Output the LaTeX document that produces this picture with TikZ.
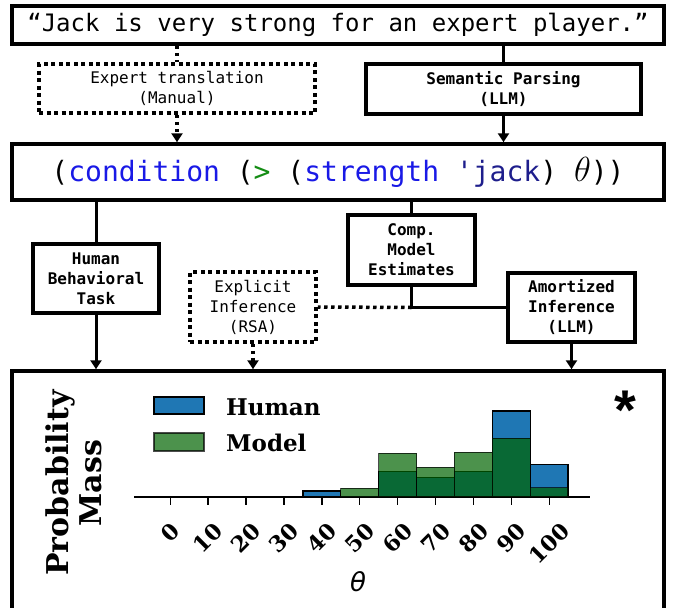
\documentclass[tikz,border=0pt]{standalone}
\usepackage{fontspec}
\setmonofont{DejaVu Sans Mono}
\newfontfamily\dvserif{DejaVu Serif}
\newfontfamily\dvsans{DejaVu Sans}
\newfontfamily\libsans{Liberation Sans}
\usetikzlibrary{arrows.meta}

\definecolor{hblue}{HTML}{1F77B4}
\definecolor{mgreen}{HTML}{006400}
\definecolor{kwblue}{RGB}{25,25,230}
\definecolor{opgreen}{RGB}{20,140,20}
\definecolor{symnavy}{RGB}{30,30,140}

\tikzset{
  boxbase/.style={line width=3.5pt, inner sep=0pt, align=center},
  solidbox/.style={boxbase, draw, font=\fontsize{16}{20}\selectfont\ttfamily\bfseries},
  dotbox/.style={boxbase, draw, dash pattern=on 4pt off 3.5pt, font=\fontsize{16}{20}\selectfont\ttfamily},
  conn/.style={line width=3pt},
  arr/.style={conn, -{Triangle[width=11pt,length=9pt]}},
  dotconn/.style={line width=3.5pt, dash pattern=on 3.5pt off 3.5pt},
  dotarr/.style={dotconn, -{Triangle[width=11pt,length=9pt]}},
  humbar/.style={fill=hblue, draw=black, line width=1.4pt},
  modbar/.style={fill=mgreen, draw=black, line width=1.4pt, opacity=0.7},
  serifbold/.style={font=\fontsize{#1}{#1}\selectfont\dvserif\bfseries},
}

\begin{document}
\begin{tikzpicture}[x=1pt,y=-1pt]
\useasboundingbox (0,0) rectangle (675,608);

% pipeline boxes
\node[solidbox, minimum width=652pt, minimum height=38pt,
      font=\fontsize{24}{28}\selectfont\ttfamily] (sent) at (338,25)
      {“Jack is very strong for an expert player.”};
\node[dotbox, minimum width=276pt, minimum height=49pt] (expert) at (177,88.5)
      {Expert translation\\(Manual)};
\node[solidbox, minimum width=275pt, minimum height=50pt] (parse) at (503.5,89)
      {Semantic Parsing\\(LLM)};
\node[solidbox, minimum width=652pt, minimum height=56pt,
      font=\fontsize{28}{32}\selectfont\ttfamily] (cond) at (338,172)
      {(\textcolor{kwblue}{condition} (\textcolor{opgreen}{>} (\textcolor{kwblue}{strength} \textcolor{symnavy}{'jack}) \scalebox{1.4}{$\theta$}))};
\node[solidbox, minimum width=126pt, minimum height=69pt] (human) at (96,278.5)
      {Human\\Behavioral\\Task};
\node[solidbox, minimum width=127pt, minimum height=70pt] (comp) at (411.5,250)
      {Comp.\\Model\\Estimates};
\node[dotbox, minimum width=126pt, minimum height=70pt] (explicit) at (253,307)
      {Explicit\\Inference\\(RSA)};
\node[solidbox, minimum width=127pt, minimum height=69pt] (amort) at (571.5,307.5)
      {Amortized\\Inference\\(LLM)};
\node[draw, line width=3.5pt, minimum width=652pt, minimum height=250pt,
      inner sep=0pt] (result) at (338,496) {};

% connectors
\draw[dotconn] (sent.south -| expert.north) -- (expert.north);
\draw[dotarr] (expert.south) -- (expert.south |- cond.north);
\draw[conn] (sent.south -| parse.north) -- (parse.north);
\draw[arr] (parse.south) -- (parse.south |- cond.north);
\draw[conn] (cond.south -| human.north) -- (human.north);
\draw[arr] (human.south) -- (human.south |- result.north);
\draw[conn] (cond.south -| comp.north) -- (comp.north);
\coordinate (split) at (comp.south |- amort.west);
\draw[conn] (comp.south) -- (split) -- (amort.west);
\draw[dotconn] (split) -- (explicit.east);
\draw[dotarr] (explicit.south) -- (explicit.south |- result.north);
\draw[arr] (amort.south) -- (amort.south |- result.north);

% histogram: axis, zero-height bins and ticks
\coordinate (axl) at (134,497);
\coordinate (axr) at (590,497);
\draw[line width=1.3pt] (axl) -- (axr);
\draw[line width=1.4pt] (151.25,497) -- (302.8,497);
\foreach \i/\lab in {0/0,1/10,2/20,3/30,4/40,5/50,6/60,7/70,8/80,9/90,10/100}{
  \draw[line width=1.4pt] ({170.2+37.9*\i},497) -- ({170.2+37.9*\i},505);
  \node[anchor=north, inner sep=0pt] at ({170.2+37.9*\i},521)
    {\rotatebox{45}{\fontsize{22}{22}\selectfont\dvserif\bfseries \lab}};
}
% human responses
\foreach \i/\h in {4/6,6/25.3,7/19.3,8/25.3,9/86,10/32.7}
  \draw[humbar] ({170.2+37.9*\i-18.95},497) rectangle ({170.2+37.9*\i+18.95},{497-\h});
% model estimates
\foreach \i/\h in {5/8.7,6/43.7,7/29.7,8/44.7,9/58.7,10/9.3}
  \draw[modbar] ({170.2+37.9*\i-18.95},497) rectangle ({170.2+37.9*\i+18.95},{497-\h});

% legend
\draw[humbar] (154,397) rectangle (204,414);
\draw[modbar] (154,433) rectangle (204,451);
\node[serifbold=23, anchor=base west, inner sep=0pt] (lh) at (226,415) {Human};
\node[serifbold=23, anchor=base west, inner sep=0pt] (lm) at (226,451) {Model};

% axis titles
\node[font=\fontsize{30}{33}\selectfont\dvserif\bfseries, rotate=90, align=center,
      inner sep=0pt] (ylab) at (74,483) {Probability\\Mass};
\node[font=\fontsize{26}{26}\selectfont\dvsans\itshape, anchor=base, inner sep=0pt]
      (xlab) at (358,591) {θ};
\node[font=\fontsize{56}{56}\selectfont\libsans\bfseries, inner sep=0pt] (star)
      at (625.5,410) {*};
\end{tikzpicture}
\end{document}
